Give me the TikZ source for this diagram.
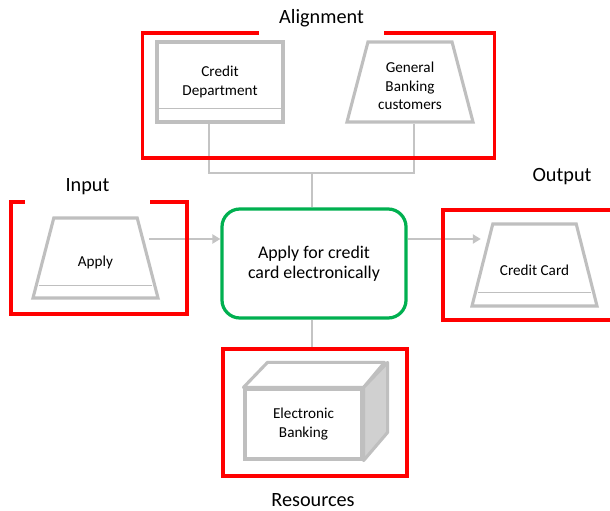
\documentclass[tikz,border=0pt]{standalone}
\usepackage{fontspec}
\setmainfont{Carlito}
\usepackage{xcolor}
\usepackage{tikz}
\usetikzlibrary{shapes,arrows,positioning,calc,arrows.meta}
\definecolor{shapegray}{HTML}{BFBFBF}
\definecolor{linkgray}{HTML}{C4C4C4}
\definecolor{sidegray}{HTML}{D0D0D0}
\definecolor{framered}{HTML}{FF0000}
\definecolor{taskgreen}{HTML}{00B050}
\tikzset{
  shapebox/.style={draw=shapegray, line width=2.2pt, rectangle, inner sep=0pt},
  shapetrap/.style={draw=shapegray, line width=2.2pt, trapezium, trapezium left angle=76,
    trapezium right angle=76, trapezium stretches=true, inner sep=2pt},
  shapetext/.style={font=\fontsize{10.8}{13.2}\selectfont, align=center, inner sep=0pt},
  groupbox/.style={draw=framered, line width=2.3pt, inner sep=0pt},
  grouplabel/.style={font=\fontsize{14.4}{17}\selectfont, inner sep=0pt},
  taskbox/.style={draw=taskgreen, line width=2.3pt, rounded corners=0.45cm, align=center,
    font=\fontsize{12.7}{14.2}\selectfont},
  link/.style={draw=linkgray, line width=0.8pt},
  flow/.style={draw=linkgray, line width=1.2pt, -{Triangle[length=0.2cm, width=0.23cm]}},
  innerline/.style={draw=shapegray, line width=0.7pt}
}
\begin{document}
\begin{tikzpicture}[x=0.025cm, y=-0.025cm]
    \clip (0,0) rectangle (610,511);
    \fill[white] (0,0) rectangle (610,511);
    % shapes
    \node[shapebox, minimum width=3.15cm, minimum height=2cm] (credit) at (220,82) {};
    \node[shapetext] (credit text) at (220,82) {Credit\\Department};
    \draw[innerline] ($(credit.south west)+(0,-15)$) -- ($(credit.south east)+(0,-15)$);
    \node[shapetrap, minimum width=3.15cm, minimum height=2cm] (gbc) at (410,82) {};
    \node[shapetext] (gbc text) at (410,86) {General\\Banking\\customers};
    \node[shapetrap, minimum width=3.125cm, minimum height=2cm] (apply) at (95.5,258) {};
    \node[shapetext] (apply text) at (95.5,262) {Apply};
    \draw[innerline] ($(apply.bottom left corner)+(8,-14)$) -- ($(apply.bottom right corner)+(-8,-14)$);
    \node[taskbox, minimum width=4.6cm, minimum height=2.725cm] (task) at (314,263.5) {Apply for credit\\card electronically};
    \node[shapetrap, minimum width=3.125cm, minimum height=2.05cm] (card) at (534.5,265) {};
    \node[shapetext] (card text) at (534.5,270) {Credit Card};
    \draw[innerline] ($(card.bottom left corner)+(8,-15)$) -- ($(card.bottom right corner)+(-8,-15)$);
    \node[shapebox, minimum width=2.925cm, minimum height=1.75cm] (ebank) at (303.5,424) {};
    \draw[shapegray, line width=2.2pt, line join=round, fill=white] (ebank.north west) -- ++(24,-25) -- ++(117,0) -- (ebank.north east) -- cycle;
    \draw[shapegray, line width=2.2pt, line join=round, fill=sidegray] (ebank.north east) -- ++(24,-25) -- ++(0,70) -- (ebank.south east) -- cycle;
    \node[shapetext] (ebank text) at (303.5,424) {Electronic\\Banking};
    % connectors
    \coordinate (join) at (312,173);
    \coordinate (row) at (0,239);
    \draw[link] ($(credit.south)+(-11,0)$) |- (join) -| ($(gbc.south)+(4,0)$);
    \draw[link] (join) -- (join |- task.north);
    \draw[flow] (apply.east |- row) -- (task.west |- row);
    \draw[flow] (task.east |- row) -- (card.west |- row);
    % frames
    \node[groupbox, minimum width=8.8cm, minimum height=3.125cm] (align box) at (318.5,95.5) {};
    \node[groupbox, minimum width=4.4cm, minimum height=2.8cm] (input box) at (99,258) {};
    \node[groupbox, minimum width=4.5cm, minimum height=2.75cm] (output box) at (533,265) {};
    \node[groupbox, minimum width=4.6cm, minimum height=3.175cm] (res box) at (315,412.5) {};
    \draw[link] ($(task.south)+(-2,0)$) -- ($(res box.north)+(-3,0)$);
    \node[grouplabel, fill=white, minimum width=3.125cm, minimum height=0.85cm] (align label) at (321.5,18) {Alignment};
    \node[grouplabel, fill=white, minimum width=3.125cm, minimum height=0.85cm] (input label) at (87.5,187) {Input};
    \node[grouplabel] (output label) at (562,177) {Output};
    \node[grouplabel] (res label) at (313,500) {Resources};
\end{tikzpicture}
\end{document}
